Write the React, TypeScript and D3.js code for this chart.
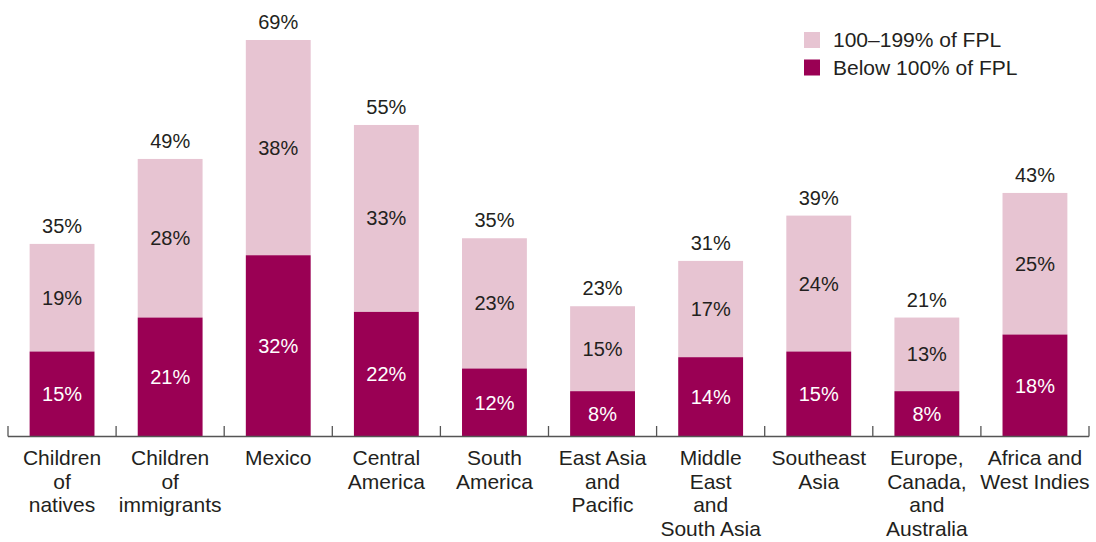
import React from 'react';
import * as d3 from 'd3';

const categories = [
    'Children of natives', 'Children of immigrants', 'Mexico', 'Central America', 'South America',
    'East Asia and Pacific', 'Middle East and South Asia', 'Southeast Asia',
    'Europe, Canada, and Australia', 'Africa and West Indies',
];
const categoryLines = [
    ['Children', 'of', 'natives'],
    ['Children', 'of', 'immigrants'],
    ['Mexico'],
    ['Central', 'America'],
    ['South', 'America'],
    ['East Asia', 'and', 'Pacific'],
    ['Middle', 'East', 'and', 'South Asia'],
    ['Southeast', 'Asia'],
    ['Europe,', 'Canada,', 'and', 'Australia'],
    ['Africa and', 'West Indies'],
];
const below100 = [15, 21, 32, 22, 12, 8, 14, 15, 8, 18];
const from100to199 = [19, 28, 38, 33, 23, 15, 17, 24, 13, 25];
const totals = [35, 49, 69, 55, 35, 23, 31, 39, 21, 43];
const seriesNames = ['100–199% of FPL', 'Below 100% of FPL'];

const DARK = '#9a0054';
const LIGHT = '#e7c4d2';
const INK = '#231f20';
const FONT = '"Liberation Sans", Arial, Helvetica, sans-serif';

const width = 1096;
const height = 542;
const baseY = 436.5;

const App: React.FC = () => {
    const x = d3.scaleBand<string>().domain(categories).range([8, 1089]).paddingInner(0).paddingOuter(0);
    const y = d3.scaleLinear().domain([0, 70]).range([baseY, 40]);
    const barW = x.bandwidth() * 0.6;

    return (
        <svg width={width} height={height} style={{ position: 'absolute', left: 0, top: 0 }} fontFamily={FONT}>
            {categories.map((c, i) => {
                const cx = x(c)! + x.bandwidth() / 2;
                const b = below100[i];
                const l = from100to199[i];
                const yB = y(b);
                const yT = y(b + l);
                return (
                    <g key={c}>
                        <rect x={cx - barW / 2} y={yT} width={barW} height={yB - yT} fill={LIGHT} />
                        <rect x={cx - barW / 2} y={yB} width={barW} height={baseY - yB} fill={DARK} />
                        <text x={cx} y={(yB + baseY) / 2 + 7} textAnchor="middle" fontSize={20} fill="#fff">{b}%</text>
                        <text x={cx} y={(yT + yB) / 2 + 7} textAnchor="middle" fontSize={20} fill={INK}>{l}%</text>
                        <text x={cx} y={yT - 11} textAnchor="middle" fontSize={20} fill={INK}>{totals[i]}%</text>
                        <text textAnchor="middle" fontSize={21} fill={INK}>
                            {categoryLines[i].map((line, k) => (
                                <tspan key={k} x={cx} y={465 + k * 23.5}>{line}</tspan>
                            ))}
                        </text>
                    </g>
                );
            })}
            <g stroke="#555" strokeWidth={1.3}>
                <line x1={8} x2={1089} y1={baseY} y2={baseY} />
                {categories.map((c) => (
                    <line key={c} x1={x(c)!} x2={x(c)!} y1={baseY} y2={426} />
                ))}
                <line x1={1089} x2={1089} y1={baseY} y2={426} />
            </g>
            {seriesNames.map((s, i) => (
                <g key={s} transform={`translate(804, ${32 + i * 27.5})`}>
                    <rect width={16} height={16} fill={i === 0 ? LIGHT : DARK} />
                    <text x={29} y={15} fontSize={21} fill={INK}>{s}</text>
                </g>
            ))}
        </svg>
    );
};

export default App;
